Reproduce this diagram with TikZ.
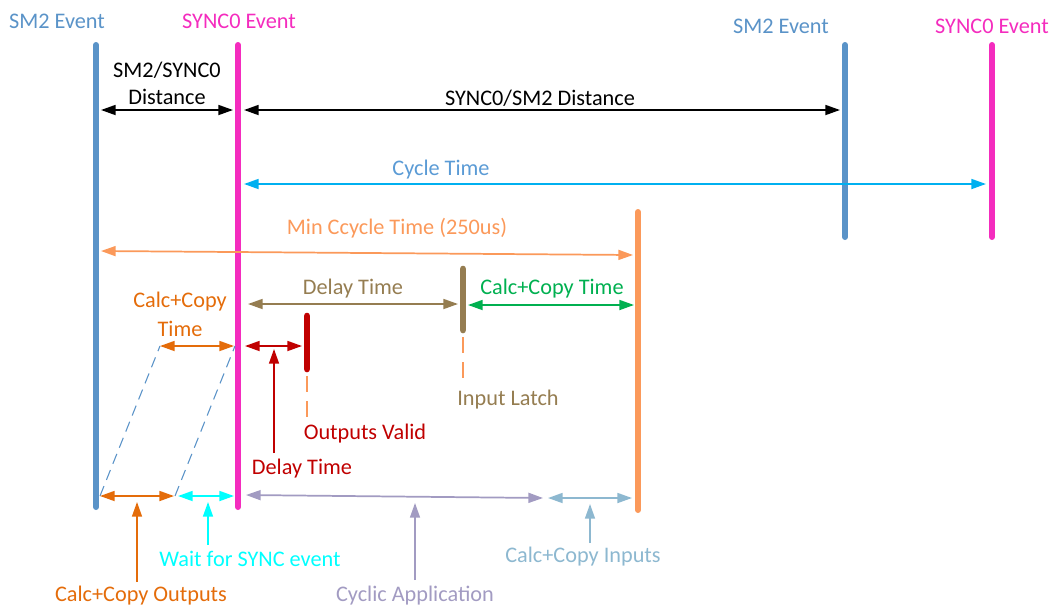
\documentclass[tikz,border=0pt]{standalone}
\usepackage{fontspec}
\setmainfont{Carlito}
\usetikzlibrary{arrows.meta}
\definecolor{smblue}{HTML}{5A93C8}
\definecolor{syncpink}{HTML}{F42CBE}
\definecolor{lorange}{HTML}{FB995A}
\definecolor{cycblue}{HTML}{00B0F0}
\definecolor{cyctext}{HTML}{5B9BD5}
\definecolor{dorange}{HTML}{E46C0A}
\definecolor{dred}{HTML}{C00000}
\definecolor{brownish}{HTML}{957D51}
\definecolor{greenish}{HTML}{00B050}
\definecolor{cyanish}{HTML}{00FFFF}
\definecolor{purplish}{HTML}{A29BC2}
\definecolor{lsteel}{HTML}{8DB8D0}
\begin{document}
\begin{tikzpicture}[x=0.75pt,y=-0.75pt,
  font=\fontsize{16.7}{20}\selectfont,
  bar/.style={line width=4.5pt, line cap=round},
  dbl/.style={line width=1.3pt, {Triangle[length=11pt,width=7.5pt]}-{Triangle[length=11pt,width=7.5pt]}},
  uparr/.style={line width=1.1pt, -{Triangle[length=11pt,width=7.5pt]}},
  dashln/.style={line width=0.8pt, dash pattern=on 8pt off 5pt},
  lbl/.style={inner sep=0pt, anchor=center, yshift=-1.5pt}]
\useasboundingbox (0,0) rectangle (1056,608);
% coordinates
\coordinate (sm2aT) at (96,45);  \coordinate (sm2aB) at (96,507);
\coordinate (syncaT) at (238,45); \coordinate (syncaB) at (238,507);
\coordinate (sm2bT) at (845,45); \coordinate (sm2bB) at (845,237);
\coordinate (syncbT) at (992,45); \coordinate (syncbB) at (992,237);
\coordinate (orT) at (638,212); \coordinate (orB) at (638,510);
\coordinate (latT) at (463,269); \coordinate (latB) at (463,330);
\coordinate (ovT) at (307,316); \coordinate (ovB) at (307,369);
% bars
\draw[bar, smblue] (sm2aT) -- (sm2aB);
\draw[bar, syncpink] (syncaT) -- (syncaB);
\draw[bar, smblue] (sm2bT) -- (sm2bB);
\draw[bar, syncpink] (syncbT) -- (syncbB);
\draw[bar, lorange] (orT) -- (orB);
\draw[bar, brownish, line width=5pt] (latT) -- (latB);
\draw[bar, dred, line width=5pt] (ovT) -- (ovB);
% labels
\node[lbl, smblue] (t1) at (57,19) {SM2 Event};
\node[lbl, syncpink] (t2) at (239,19) {SYNC0 Event};
\node[lbl, smblue] (t3) at (781,24) {SM2 Event};
\node[lbl, syncpink] (t4) at (992,24) {SYNC0 Event};
\node[lbl] (t5a) at (167,68) {SM2/SYNC0};
\node[lbl] (t5b) at (167,95) {Distance};
\node[lbl] (t6) at (540,96) {SYNC0/SM2 Distance};
\node[lbl, cyctext] (t7) at (441,168) {Cycle Time};
\node[lbl, lorange] (t8) at (397,226) {Min Ccycle Time (250us)};
\node[lbl, brownish] (t9) at (353,287) {Delay Time};
\node[lbl, greenish] (t10) at (552,287) {Calc+Copy Time};
\node[lbl, dorange] (t11a) at (180,300) {Calc+Copy};
\node[lbl, dorange] (t11b) at (180,327) {Time};
\node[lbl, dred] (t12) at (365,432) {Outputs Valid};
\node[lbl, brownish] (t13) at (508,398) {Input Latch};
\node[lbl, dred] (t14) at (302,467) {Delay Time};
\node[lbl, dorange] (t15) at (141,594) {Calc+Copy Outputs};
\node[lbl, cyanish] (t16) at (250,557) {Wait for SYNC event};
\node[lbl, purplish] (t17) at (415,594) {Cyclic Application};
\node[lbl, lsteel] (t18) at (583,555) {Calc+Copy Inputs};
% arrow end points
\coordinate (a1L) at (101,110); \coordinate (a1R) at (233,110);
\coordinate (a2L) at (244,110); \coordinate (a2R) at (840,110);
\coordinate (a3L) at (244,184); \coordinate (a3R) at (986,184);
\coordinate (a4L) at (101,251); \coordinate (a4R) at (633,255);
\coordinate (a5L) at (248,304); \coordinate (a5R) at (458,304);
\coordinate (a6L) at (468,305); \coordinate (a6R) at (634,305);
\coordinate (a7L) at (160,346); \coordinate (a7R) at (234,346);
\coordinate (a8L) at (245,346); \coordinate (a8R) at (302,346);
\coordinate (b1L) at (100,496); \coordinate (b1R) at (174,496);
\coordinate (b2L) at (178,496); \coordinate (b2R) at (234,496);
\coordinate (b3L) at (246,495); \coordinate (b3R) at (543,498);
\coordinate (b4L) at (548,498); \coordinate (b4R) at (632,498);
\coordinate (dA1) at (175,496); \coordinate (dA2) at (235,346);
\coordinate (ovD1) at (307,376); \coordinate (ovD2) at (307,420);
\coordinate (laD1) at (463,337); \coordinate (laD2) at (463,384);
\coordinate (upr1) at (274,453); \coordinate (upr2) at (274,349);
\coordinate (up1a) at (137,582); \coordinate (up1b) at (137,502);
\coordinate (up2a) at (208,545); \coordinate (up2b) at (208,502);
\coordinate (up3a) at (415,580); \coordinate (up3b) at (415,503);
\coordinate (up4a) at (590,543); \coordinate (up4b) at (590,504);
% dashed lines
\draw[dashln, smblue] (b1L) -- (a7L);
\draw[dashln, smblue] (dA1) -- (dA2);
\draw[lorange, line width=0.9pt, dash pattern=on 12pt off 7pt] (ovD1) -- (ovD2);
\draw[lorange, line width=0.9pt, dash pattern=on 12pt off 7pt] (laD1) -- (laD2);
% double arrows
\draw[dbl, black] (a1L) -- (a1R);
\draw[dbl, black] (a2L) -- (a2R);
\draw[dbl, cycblue] (a3L) -- (a3R);
\draw[dbl, lorange] (a4L) -- (a4R);
\draw[dbl, brownish] (a5L) -- (a5R);
\draw[dbl, greenish] (a6L) -- (a6R);
\draw[dbl, dorange] (a7L) -- (a7R);
\draw[dbl, dred] (a8L) -- (a8R);
\draw[dbl, dorange] (b1L) -- (b1R);
\draw[dbl, cyanish] (b2L) -- (b2R);
\draw[dbl, purplish] (b3L) -- (b3R);
\draw[dbl, lsteel] (b4L) -- (b4R);
% up arrows
\draw[uparr, dred] (upr1) -- (upr2);
\draw[uparr, dorange] (up1a) -- (up1b);
\draw[uparr, cyanish] (up2a) -- (up2b);
\draw[uparr, purplish] (up3a) -- (up3b);
\draw[uparr, lsteel] (up4a) -- (up4b);
\end{tikzpicture}
\end{document}
